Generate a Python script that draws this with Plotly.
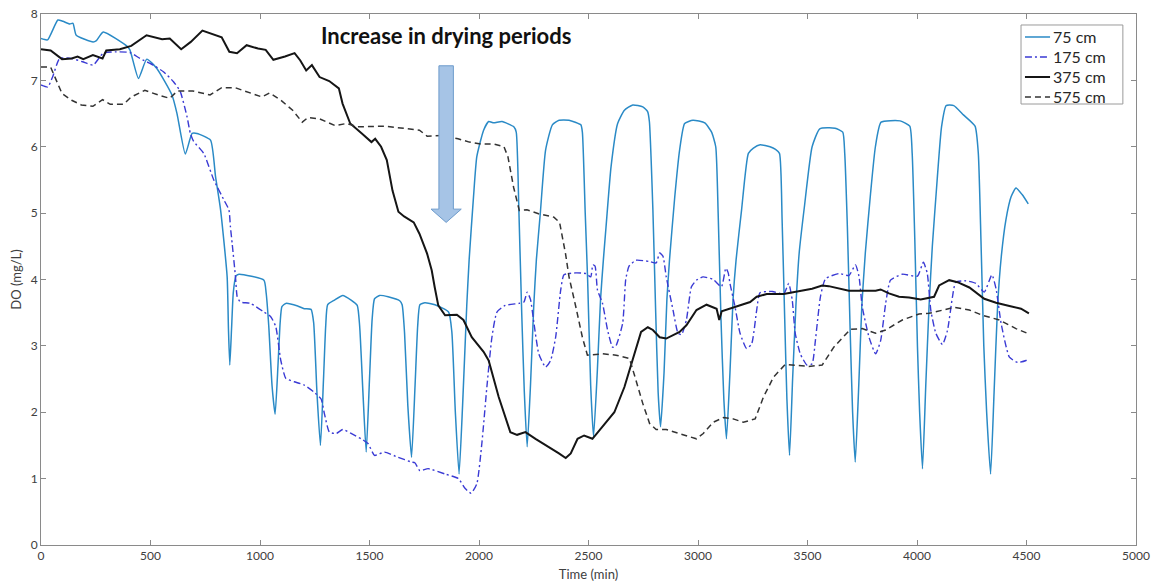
import plotly.graph_objects as go

# Dissolved oxygen (mg/L) over time (min) at four depths

t_75 = [0, 30, 77, 100, 131, 146, 161, 238, 253, 284, 391, 406, 445, 483, 529, 598, 621, 659, 690, 712,
        774, 797, 820, 850, 856, 862, 870, 878, 890, 904, 1018, 1028, 1040, 1055, 1069, 1082, 1092, 1100,
        1118, 1172, 1202, 1233, 1245, 1260, 1276, 1290, 1300, 1309, 1340, 1378, 1416, 1444, 1455, 1470,
        1485, 1500, 1512, 1523, 1546, 1585, 1638, 1649, 1660, 1675, 1692, 1708, 1720, 1730, 1753, 1799,
        1861, 1876, 1892, 1909, 1925, 1944, 1955, 1975, 1990, 2021, 2044, 2067, 2105, 2159, 2170, 2182,
        2195, 2207, 2220, 2235, 2250, 2262, 2280, 2304, 2335, 2366, 2411, 2465, 2472, 2485, 2496, 2510,
        2523, 2540, 2555, 2568, 2580, 2603, 2633, 2664, 2702, 2748, 2770, 2778, 2794, 2806, 2818, 2829,
        2845, 2858, 2870, 2894, 2916, 2939, 2977, 3031, 3062, 3081, 3092, 3105, 3118, 3130, 3146, 3160,
        3174, 3199, 3230, 3253, 3284, 3329, 3354, 3372, 3384, 3396, 3406, 3418, 3432, 3447, 3462, 3486,
        3521, 3556, 3626, 3661, 3670, 3682, 3695, 3706, 3718, 3734, 3748, 3764, 3788, 3810, 3836, 3923,
        3967, 3978, 3990, 4002, 4012, 4025, 4040, 4055, 4070, 4092, 4112, 4133, 4168, 4212, 4265, 4280,
        4292, 4305, 4318, 4336, 4352, 4368, 4385, 4406, 4430, 4452, 4480, 4508]
do_75 = [7.63, 7.61, 7.91, 7.89, 7.85, 7.86, 7.68, 7.58, 7.60, 7.73, 7.52, 7.46, 7.03, 7.32, 7.18, 6.78,
         6.50, 5.89, 6.20, 6.20, 6.10, 5.55, 5.05, 4.04, 3.25, 2.71, 3.25, 3.80, 4.05, 4.08, 3.99, 3.80,
         3.30, 2.40, 1.97, 2.70, 3.35, 3.59, 3.64, 3.60, 3.56, 3.55, 3.35, 2.30, 1.50, 2.50, 3.30, 3.62,
         3.69, 3.76, 3.69, 3.61, 3.30, 2.30, 1.40, 2.50, 3.40, 3.71, 3.76, 3.74, 3.68, 3.62, 3.20, 2.10,
         1.32, 2.40, 3.30, 3.62, 3.65, 3.62, 3.51, 3.21, 2.00, 1.07, 2.10, 3.60, 4.30, 5.25, 5.85, 6.25,
         6.38, 6.36, 6.38, 6.30, 6.22, 5.05, 3.50, 2.30, 1.48, 2.40, 3.60, 4.30, 5.00, 5.95, 6.33, 6.40,
         6.40, 6.33, 6.22, 5.00, 4.00, 2.40, 1.63, 2.60, 3.70, 4.30, 4.79, 5.70, 6.35, 6.55, 6.63, 6.60,
         6.53, 6.38, 5.05, 3.60, 2.30, 1.78, 2.60, 3.70, 4.30, 5.25, 5.95, 6.35, 6.40, 6.36, 6.22, 6.00,
         5.00, 3.40, 2.20, 1.60, 2.60, 3.70, 4.30, 5.05, 5.90, 5.98, 6.03, 6.00, 5.96, 5.90, 4.90, 3.40,
         2.20, 1.35, 2.50, 3.60, 4.40, 5.10, 6.00, 6.27, 6.28, 6.22, 5.90, 4.80, 3.20, 2.00, 1.25, 2.40,
         3.60, 4.40, 5.30, 6.00, 6.37, 6.39, 6.31, 5.90, 4.60, 3.00, 2.00, 1.15, 2.40, 3.60, 4.50, 5.50,
         6.30, 6.62, 6.62, 6.48, 6.31, 5.90, 4.60, 3.00, 2.00, 1.07, 2.30, 3.60, 4.35, 4.90, 5.25, 5.38,
         5.28, 5.14]

t_175 = [0, 31, 54, 85, 140, 190, 238, 284, 345, 406, 452, 513, 559, 605, 636, 667, 682, 697, 743, 789,
         835, 858, 865, 873, 888, 896, 911, 957, 1018, 1049, 1072, 1095, 1118, 1156, 1202, 1248, 1279,
         1294, 1317, 1348, 1378, 1416, 1462, 1493, 1523, 1569, 1631, 1692, 1707, 1730, 1768, 1845, 1906,
         1937, 1964, 1990, 2013, 2036, 2059, 2082, 2120, 2182, 2205, 2220, 2235, 2251, 2273, 2304, 2327,
         2350, 2373, 2388, 2442, 2488, 2510, 2520, 2530, 2541, 2564, 2587, 2610, 2625, 2656, 2670, 2685,
         2717, 2779, 2809, 2825, 2840, 2855, 2886, 2909, 2925, 2947, 2970, 2993, 3023, 3069, 3107, 3127,
         3138, 3146, 3169, 3192, 3222, 3245, 3268, 3283, 3340, 3391, 3414, 3430, 3444, 3467, 3498, 3521,
         3536, 3559, 3582, 3643, 3689, 3719, 3735, 3750, 3781, 3811, 3834, 3857, 3879, 3933, 4002, 4029,
         4047, 4063, 4086, 4116, 4139, 4162, 4177, 4223, 4269, 4307, 4342, 4361, 4384, 4422, 4460, 4498,
         4510]
do_175 = [6.93, 6.90, 7.06, 7.33, 7.33, 7.28, 7.23, 7.41, 7.43, 7.42, 7.33, 7.23, 7.13, 6.98, 6.83, 6.45,
          6.20, 6.08, 5.90, 5.50, 5.20, 5.05, 4.79, 4.54, 4.04, 3.74, 3.66, 3.64, 3.51, 3.44, 3.29, 2.78,
          2.51, 2.46, 2.41, 2.30, 2.20, 1.98, 1.70, 1.68, 1.74, 1.68, 1.60, 1.53, 1.35, 1.40, 1.32, 1.25,
          1.24, 1.12, 1.15, 1.07, 1.00, 0.85, 0.78, 0.92, 1.53, 2.38, 3.13, 3.51, 3.61, 3.64, 3.66, 3.81,
          3.70, 3.34, 2.88, 2.68, 2.78, 3.13, 3.84, 4.07, 4.10, 4.09, 4.04, 4.22, 4.20, 3.84, 3.64, 3.24,
          2.98, 3.00, 3.34, 4.00, 4.20, 4.29, 4.27, 4.25, 4.40, 4.35, 4.04, 3.54, 3.19, 3.17, 3.39, 3.89,
          3.99, 4.04, 4.00, 3.89, 4.17, 4.10, 3.94, 3.59, 3.19, 2.96, 3.03, 3.54, 3.80, 3.82, 3.78, 3.94,
          3.70, 3.19, 2.88, 2.71, 2.73, 3.08, 3.74, 4.01, 4.09, 4.06, 4.22, 4.05, 3.59, 3.13, 2.88, 3.08,
          3.64, 3.99, 4.08, 4.05, 4.26, 4.09, 3.54, 3.19, 3.02, 3.23, 3.74, 3.96, 3.98, 3.94, 3.81, 4.07,
          3.86, 3.34, 2.83, 2.75, 2.78, 2.80]

t_375 = [0, 44, 96, 140, 167, 193, 237, 281, 298, 360, 412, 482, 553, 588, 640, 684, 737, 798, 825, 860,
         895, 939, 991, 1026, 1061, 1114, 1158, 1184, 1211, 1237, 1272, 1316, 1342, 1360, 1377, 1412, 1465,
         1509, 1526, 1553, 1579, 1605, 1632, 1658, 1702, 1728, 1763, 1784, 1798, 1814, 1845, 1899, 1929,
         1967, 2021, 2044, 2090, 2143, 2174, 2212, 2258, 2319, 2365, 2396, 2419, 2450, 2480, 2518, 2564,
         2618, 2664, 2717, 2740, 2771, 2794, 2825, 2855, 2916, 2947, 2993, 3039, 3085, 3097, 3108, 3146,
         3192, 3238, 3268, 3314, 3391, 3444, 3521, 3567, 3597, 3689, 3811, 3834, 3872, 3918, 3964, 4017,
         4078, 4101, 4147, 4185, 4239, 4307, 4361, 4422, 4475, 4511]
do_375 = [7.47, 7.45, 7.32, 7.33, 7.36, 7.32, 7.38, 7.33, 7.45, 7.47, 7.52, 7.68, 7.62, 7.63, 7.47, 7.58,
          7.75, 7.68, 7.65, 7.43, 7.41, 7.53, 7.48, 7.46, 7.31, 7.36, 7.41, 7.30, 7.15, 7.23, 7.05, 6.99,
          6.93, 6.88, 6.65, 6.35, 6.20, 6.07, 6.12, 6.00, 5.80, 5.34, 5.02, 4.95, 4.86, 4.69, 4.39, 4.14,
          3.88, 3.61, 3.46, 3.47, 3.39, 3.13, 2.91, 2.78, 2.23, 1.70, 1.66, 1.70, 1.60, 1.48, 1.38, 1.31,
          1.38, 1.60, 1.65, 1.60, 1.78, 2.00, 2.38, 2.98, 3.21, 3.28, 3.24, 3.13, 3.11, 3.21, 3.31, 3.54,
          3.62, 3.56, 3.39, 3.52, 3.56, 3.60, 3.66, 3.74, 3.78, 3.78, 3.81, 3.86, 3.91, 3.90, 3.83, 3.83,
          3.85, 3.79, 3.74, 3.73, 3.70, 3.74, 3.91, 3.99, 3.96, 3.88, 3.71, 3.65, 3.60, 3.56, 3.49]

t_575 = [0, 44, 70, 96, 140, 184, 237, 281, 316, 377, 412, 474, 535, 588, 623, 693, 772, 825, 886, 939,
         1009, 1044, 1096, 1149, 1193, 1219, 1272, 1342, 1395, 1447, 1570, 1675, 1728, 1763, 1833, 1904,
         1956, 2009, 2070, 2114, 2132, 2158, 2184, 2219, 2272, 2342, 2368, 2395, 2411, 2442, 2472, 2495,
         2564, 2626, 2687, 2717, 2748, 2779, 2809, 2855, 2916, 2993, 3024, 3070, 3116, 3161, 3207, 3261,
         3299, 3345, 3398, 3444, 3506, 3567, 3620, 3696, 3750, 3811, 3857, 3933, 4009, 4055, 4116, 4170,
         4239, 4300, 4376, 4452, 4511]
do_575 = [7.20, 7.20, 7.00, 6.80, 6.70, 6.63, 6.61, 6.71, 6.64, 6.64, 6.75, 6.85, 6.78, 6.73, 6.84, 6.84,
          6.78, 6.89, 6.89, 6.83, 6.75, 6.81, 6.70, 6.55, 6.37, 6.44, 6.42, 6.32, 6.35, 6.30, 6.31, 6.27,
          6.25, 6.16, 6.17, 6.12, 6.07, 6.04, 6.04, 6.00, 5.85, 5.39, 5.04, 5.05, 4.99, 4.94, 4.86, 4.39,
          4.04, 3.59, 3.13, 2.86, 2.88, 2.86, 2.81, 2.48, 2.13, 1.83, 1.74, 1.74, 1.68, 1.60, 1.68, 1.85,
          1.92, 1.90, 1.85, 1.90, 2.23, 2.53, 2.72, 2.71, 2.69, 2.71, 2.98, 3.25, 3.26, 3.19, 3.24, 3.39,
          3.48, 3.49, 3.54, 3.58, 3.54, 3.46, 3.39, 3.26, 3.18]

x_ticks = [0, 500, 1000, 1500, 2000, 2500, 3000, 3500, 4000, 4500, 5000]
y_ticks = [0, 1, 2, 3, 4, 5, 6, 7, 8]

note_text = "Increase in drying periods"
# arrow geometry (data units): centre, shaft/head half widths, top, head base, tip
arrow_x, shaft_hw, head_hw = 1850, 33, 69
arrow_top, arrow_neck, arrow_tip = 7.22, 5.06, 4.86

FONT = "Lato, 'Open Sans', sans-serif"
AXIS_GREY = "#8a8a8a"

series = [
    ("75 cm", t_75, do_75, dict(color="#2a8ac6", width=1.5, shape="spline", smoothing=0.5)),
    ("175 cm", t_175, do_175, dict(color="#3a3ad4", width=1.4, dash="7px,3px,2px,3px",
                                   shape="spline", smoothing=0.5)),
    ("375 cm", t_375, do_375, dict(color="#151515", width=2)),
    ("575 cm", t_575, do_575, dict(color="#333333", width=1.5, dash="6px,4px")),
]

fig = go.Figure()
for name, t, do, line in series:
    fig.add_trace(go.Scatter(x=t, y=do, name=name, mode="lines", line=line, showlegend=False))

arrow_path = (f"M{arrow_x - shaft_hw},{arrow_top} L{arrow_x + shaft_hw},{arrow_top} "
              f"L{arrow_x + shaft_hw},{arrow_neck} L{arrow_x + head_hw},{arrow_neck} "
              f"L{arrow_x},{arrow_tip} L{arrow_x - head_hw},{arrow_neck} "
              f"L{arrow_x - shaft_hw},{arrow_neck} Z")
fig.add_shape(type="path", path=arrow_path, xref="x", yref="y",
              fillcolor="#a6c4e6", line=dict(color="#6f9ccc", width=1))

fig.add_annotation(x=arrow_x, y=7.67, xref="x", yref="y", text=f"<b>{note_text}</b>",
                   showarrow=False, xanchor="center", yanchor="middle",
                   font=dict(family=FONT, size=22, color="#111111"))

# compact boxed legend in the top-right corner (paper coordinates)
leg_x0, leg_x1, leg_y0, leg_y1 = 0.895, 0.988, 0.8305, 0.9793
leg_row0, leg_row_step = 0.9567, 0.03766
leg_line_x0, leg_line_x1, leg_text_x = 0.8986, 0.9215, 0.9228
fig.add_shape(type="rect", xref="paper", yref="paper", x0=leg_x0, x1=leg_x1, y0=leg_y0, y1=leg_y1,
              fillcolor="white", line=dict(color="#9a9a9a", width=1), layer="above")
for i, (name, _, _, line) in enumerate(series):
    ly = leg_row0 - i * leg_row_step
    fig.add_shape(type="line", xref="paper", yref="paper", x0=leg_line_x0, x1=leg_line_x1,
                  y0=ly, y1=ly, layer="above",
                  line=dict(color=line["color"], width=line["width"], dash=line.get("dash", "solid")))
    fig.add_annotation(x=leg_text_x, y=ly, xref="paper", yref="paper", text=name, showarrow=False,
                       xanchor="left", yanchor="middle",
                       font=dict(family=FONT, size=16, color="#262626"))

axis_common = dict(showline=True, linecolor=AXIS_GREY, linewidth=1, mirror="ticks",
                   ticks="inside", ticklen=5, tickcolor=AXIS_GREY, tickwidth=1,
                   showgrid=False, zeroline=False, automargin=False,
                   tickfont=dict(family=FONT, size=12, color="#404040"))

fig.update_layout(
    width=1152, height=585,
    margin=dict(l=41, r=16, t=14, b=40),
    paper_bgcolor="white", plot_bgcolor="white",
    font=dict(family=FONT, color="#404040"),
    xaxis=dict(range=[0, 5000], tickvals=x_ticks, ticktext=[str(v) for v in x_ticks],
               title=dict(text="Time (min)", font=dict(family=FONT, size=13, color="#404040"),
                          standoff=7),
               **axis_common),
    yaxis=dict(range=[0, 8], tickvals=y_ticks, ticktext=[str(v) for v in y_ticks],
               title=dict(text="DO (mg/L)", font=dict(family=FONT, size=13, color="#404040"),
                          standoff=6),
               **axis_common),
    showlegend=False,
)

fig.write_html("out.html")
